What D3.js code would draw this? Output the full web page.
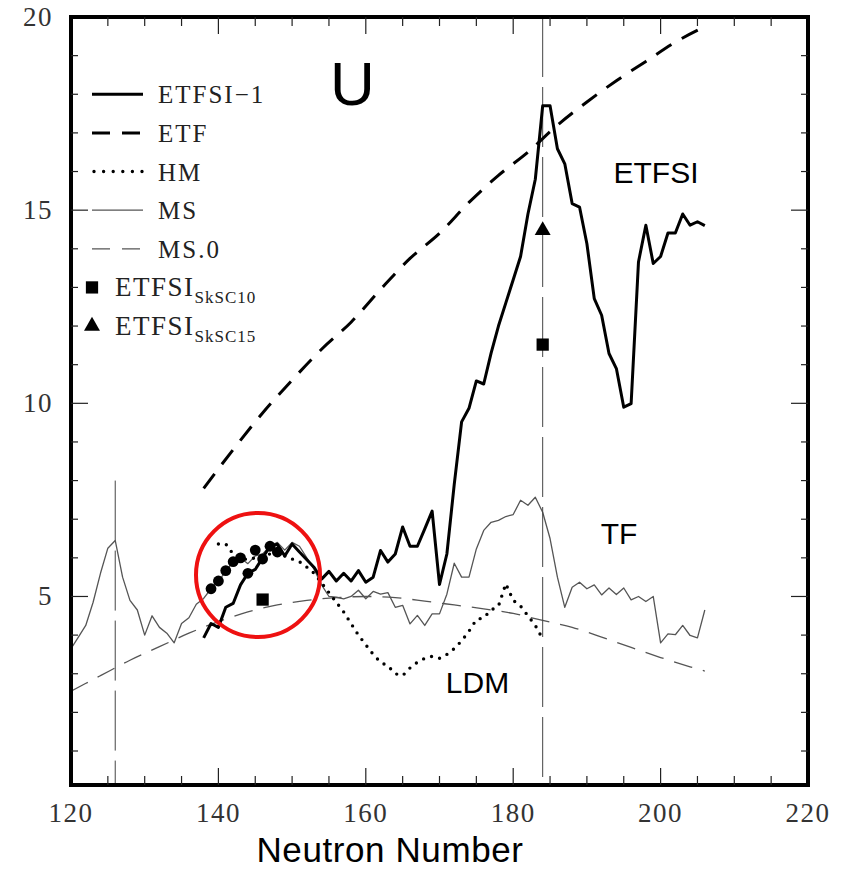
<!DOCTYPE html>
<html>
<head>
<meta charset="utf-8">
<script src="https://cdn.jsdelivr.net/npm/d3@7/dist/d3.min.js"></script>
<style>
  body { margin: 0; background: #fff; }
  svg { display: block; }
</style>
</head>
<body>
<svg id="chart" width="848" height="869"></svg>
<script>
// ---- data (U isotopes vs. neutron number) ----
const etfsiStart = 138;
const etfsiValues = [
  3.93, 4.3, 4.2, 4.72, 4.82, 5.3, 5.6, 5.7, 6.0, 6.3,          // 138-147
  6.35, 6.05, 6.36, 6.15, 5.95, 5.75, 5.45, 5.65, 5.4, 5.6,     // 148-157
  5.4, 5.67, 5.37, 5.5, 6.19, 5.89, 6.1, 6.8, 6.3, 6.3,         // 158-167
  6.75, 7.21, 5.31, 6.1, 7.9, 9.52, 9.87, 10.58, 10.5, 11.3,    // 168-177
  12.0, 12.6, 13.2, 13.8, 14.9, 15.8, 17.7, 17.7, 16.59, 16.2,  // 178-187
  15.17, 15.08, 14.13, 12.71, 12.28, 11.29, 10.9, 9.9, 9.99, 13.66, // 188-197
  14.61, 13.62, 13.8, 14.41, 14.41, 14.9, 14.61, 14.7, 14.6     // 198-206
];

const etfN      = [138, 142, 146, 150, 154, 158, 162, 166, 170, 174, 178, 182, 186, 190, 194, 198, 202, 206];
const etfValues = [7.8, 8.8, 9.75, 10.6, 11.4, 12.1, 12.95, 13.75, 14.4, 15.2, 15.9, 16.5, 17.2, 17.8, 18.35, 18.85, 19.35, 19.75];

const hmStart = 140;
const hmValues = [
  6.36, 6.36, 6.1, 6.0, 5.95, 6.0, 6.05, 6.1, 6.15, 6.05,   // 140-149
  5.97, 5.9, 5.76, 5.6, 5.35, 5.1, 4.85, 4.6, 4.3, 4.0,     // 150-159
  3.75, 3.5, 3.3, 3.2, 3.0, 2.95, 3.15, 3.3, 3.4, 3.45,     // 160-169
  3.4, 3.5, 3.65, 3.85, 4.1, 4.4, 4.45, 4.65, 4.75, 5.33,   // 170-179
  4.9, 4.75, 4.5, 4.25, 3.9                                 // 180-184
];

const msStart = 120;
const msValues = [
  3.65, 3.95, 4.25, 4.85, 5.6, 6.25, 6.45, 5.5, 4.9, 4.65,  // 120-129
  4.0, 4.5, 4.2, 4.05, 3.8, 4.3, 4.45, 4.8, 4.95, 5.2,      // 130-139
  5.4, 5.65, 5.9, 6.0, 5.85, 6.05, 6.1, 6.3, 6.4, 6.2,      // 140-149
  6.4, 6.3, 6.0, 5.7, 5.3, 5.0, 4.98, 4.94, 5.0, 5.16,      // 150-159
  4.94, 5.13, 5.06, 5.1, 4.72, 4.77, 4.29, 4.51, 4.25, 4.55, // 160-169
  4.55, 5.06, 5.86, 5.5, 5.5, 6.23, 6.71, 6.92, 6.97, 7.07, // 170-179
  7.12, 7.49, 7.36, 7.57, 7.18, 6.5, 5.5, 4.72, 5.24, 5.37, // 180-189
  5.2, 5.3, 5.04, 5.22, 5.05, 5.22, 4.91, 5.0, 4.87, 5.0,   // 190-199
  3.8, 4.03, 4.01, 4.25, 3.99, 3.93, 4.65                   // 200-206
];

const ms0N      = [120, 124, 128, 132, 136, 140, 144, 148, 152, 156, 160, 164, 168, 172, 176, 180, 184, 188, 192, 196, 200, 204, 206];
const ms0Values = [2.55, 2.95, 3.35, 3.7, 4.05, 4.35, 4.6, 4.78, 4.9, 4.97, 5.0, 4.97, 4.88, 4.78, 4.68, 4.56, 4.38, 4.2, 3.95, 3.68, 3.42, 3.18, 3.07];

// filled circles near the ground state region
const dotN      = [139, 140, 141, 142, 143, 144, 145, 146, 147, 148];
const dotValues = [5.2, 5.4, 5.67, 5.9, 6.0, 5.6, 6.2, 5.97, 6.3, 6.15];

const skSC10N      = [184, 146];
const skSC10Values = [11.52, 4.92];
const skSC15N      = [184];
const skSC15Values = [14.5];

// shell closures
const magicN    = [126, 184];
const magicFrom = [8.0, 20];

const xMajorTicks = [120, 140, 160, 180, 200, 220];
const yMajorTicks = [5, 10, 15, 20];

const legendNames = ["ETFSI\u22121", "ETF", "HM", "MS", "MS.0"];

// ---- layout ----
const svg = d3.select("#chart");
const x = d3.scaleLinear().domain([120, 220]).range([71, 808]);
const y = d3.scaleLinear().domain([0.12, 20]).range([785, 17]);

const plot = svg.append("g");
const clipId = "plotClip";
svg.append("defs").append("clipPath").attr("id", clipId)
  .append("rect").attr("x", x(120)).attr("y", y(20)).attr("width", x(220) - x(120)).attr("height", y(0.12) - y(20));

const seq = (start, vals) => vals.map((v, i) => [start + i, v]);
const zip = (ns, vals) => ns.map((n, i) => [n, vals[i]]);
const line = d3.line().x(d => x(d[0])).y(d => y(d[1]));
const smooth = d3.line().x(d => x(d[0])).y(d => y(d[1])).curve(d3.curveMonotoneX);

const curves = plot.append("g").attr("clip-path", `url(#${clipId})`);

// MS.0 smooth dashed
curves.append("path").datum(zip(ms0N, ms0Values))
  .attr("d", smooth).attr("fill", "none")
  .attr("stroke", "#555").attr("stroke-width", 1.3).attr("stroke-dasharray", "19,11");

// MS thin solid
curves.append("path").datum(seq(msStart, msValues))
  .attr("d", line).attr("fill", "none")
  .attr("stroke", "#555").attr("stroke-width", 1.3).attr("stroke-linejoin", "round");

// shell-closure guides
curves.selectAll("line.magic").data(magicN).join("line")
  .attr("class", "magic")
  .attr("x1", d => x(d)).attr("x2", d => x(d))
  .attr("y1", (d, i) => y(magicFrom[i])).attr("y2", y(0.12))
  .attr("stroke", "#444").attr("stroke-width", 1).attr("stroke-dasharray", "60,10");

// ETF thick dashed
curves.append("path").datum(zip(etfN, etfValues))
  .attr("d", smooth).attr("fill", "none")
  .attr("stroke", "#000").attr("stroke-width", 3).attr("stroke-dasharray", "18,12");

// HM dotted
curves.append("path").datum(seq(hmStart, hmValues))
  .attr("d", line).attr("fill", "none")
  .attr("stroke", "#000").attr("stroke-width", 3.4).attr("stroke-linecap", "round")
  .attr("stroke-dasharray", "0,8.3");

// ETFSI-1 thick solid
curves.append("path").datum(seq(etfsiStart, etfsiValues))
  .attr("d", line).attr("fill", "none")
  .attr("stroke", "#000").attr("stroke-width", 3).attr("stroke-linejoin", "round");

// filled circles
curves.selectAll("circle.dot").data(zip(dotN, dotValues)).join("circle")
  .attr("class", "dot")
  .attr("cx", d => x(d[0])).attr("cy", d => y(d[1])).attr("r", 5.4).attr("fill", "#000");

// squares and triangles
const sq = d3.symbol().type(d3.symbolSquare).size(150);
const tri = d3.symbol().type(d3.symbolTriangle).size(110);
curves.selectAll("path.sq").data(zip(skSC10N, skSC10Values)).join("path")
  .attr("class", "sq").attr("d", sq)
  .attr("transform", d => `translate(${x(d[0])},${y(d[1])})`).attr("fill", "#000");
curves.selectAll("path.tri").data(zip(skSC15N, skSC15Values)).join("path")
  .attr("class", "tri").attr("d", tri)
  .attr("transform", d => `translate(${x(d[0])},${y(d[1]) + 1})`).attr("fill", "#000");

// highlight ring
plot.append("circle").attr("cx", 258).attr("cy", 575).attr("r", 62)
  .attr("fill", "none").attr("stroke", "#ee1111").attr("stroke-width", 4);

// ---- frame and ticks ----
const axes = svg.append("g");
axes.append("rect")
  .attr("x", x(120)).attr("y", y(20))
  .attr("width", x(220) - x(120)).attr("height", y(0.12) - y(20))
  .attr("fill", "none").attr("stroke", "#000").attr("stroke-width", 4);

const xMinor = d3.range(125, 220, 5).filter(v => !xMajorTicks.includes(v));
const yMinor = d3.range(1, 20, 1).filter(v => !yMajorTicks.includes(v));
const tickStroke = "#222";

function xTick(v, len) {
  axes.append("line").attr("x1", x(v)).attr("x2", x(v))
    .attr("y1", y(0.12)).attr("y2", y(0.12) - len).attr("stroke", tickStroke).attr("stroke-width", 1.2);
  axes.append("line").attr("x1", x(v)).attr("x2", x(v))
    .attr("y1", y(20)).attr("y2", y(20) + len).attr("stroke", tickStroke).attr("stroke-width", 1.2);
}
function yTick(v, len) {
  axes.append("line").attr("x1", x(120)).attr("x2", x(120) + len)
    .attr("y1", y(v)).attr("y2", y(v)).attr("stroke", tickStroke).attr("stroke-width", 1.2);
  axes.append("line").attr("x1", x(220)).attr("x2", x(220) - len)
    .attr("y1", y(v)).attr("y2", y(v)).attr("stroke", tickStroke).attr("stroke-width", 1.2);
}
xMinor.forEach(v => xTick(v, 9));
xMajorTicks.filter(v => v > 120 && v < 220).forEach(v => xTick(v, 17));
yMinor.forEach(v => yTick(v, 7));
yMajorTicks.filter(v => v < 20).forEach(v => yTick(v, 17));

const tickFont = "'Liberation Serif', 'Times New Roman', serif";
axes.selectAll("text.xt").data(xMajorTicks).join("text")
  .attr("class", "xt")
  .attr("x", d => x(d)).attr("y", 822)
  .attr("text-anchor", "middle").attr("font-family", tickFont)
  .attr("font-size", 27).attr("letter-spacing", 1.5).attr("fill", "#333")
  .text(d => d);
axes.selectAll("text.yt").data(yMajorTicks).join("text")
  .attr("class", "yt")
  .attr("x", 53).attr("y", d => y(d) + 9)
  .attr("text-anchor", "end").attr("font-family", tickFont)
  .attr("font-size", 27).attr("letter-spacing", 1.5).attr("fill", "#333")
  .text(d => d);

// ---- legend ----
const leg = svg.append("g");
const legStyles = [
  { stroke: "#000", width: 3, dash: null, cap: "butt" },
  { stroke: "#000", width: 3, dash: "18,12", cap: "butt" },
  { stroke: "#000", width: 3.4, dash: "0,9.6", cap: "round" },
  { stroke: "#555", width: 1.3, dash: null, cap: "butt" },
  { stroke: "#555", width: 1.3, dash: "18,12", cap: "butt" }
];
const legRowY = [18, 17, 16, 15, 14];
legendNames.forEach((name, i) => {
  const yy = y(legRowY[i]);
  const st = legStyles[i];
  leg.append("line")
    .attr("x1", i === 2 ? 94 : 92).attr("x2", 143).attr("y1", yy).attr("y2", yy)
    .attr("stroke", st.stroke).attr("stroke-width", st.width)
    .attr("stroke-linecap", st.cap)
    .attr("stroke-dasharray", st.dash);
  leg.append("text")
    .attr("x", 158).attr("y", yy + 9)
    .attr("font-family", tickFont).attr("font-size", 25).attr("letter-spacing", 2)
    .attr("fill", "#222").text(name);
});

const markerRows = [
  { row: 13, sym: sq, sub: "SkSC10" },
  { row: 12, sym: tri, sub: "SkSC15" }
];
markerRows.forEach(m => {
  const yy = y(m.row);
  leg.append("path").attr("d", m.sym)
    .attr("transform", `translate(92,${yy})`).attr("fill", "#000");
  const t = leg.append("text")
    .attr("x", 115).attr("y", yy + 9)
    .attr("font-family", tickFont).attr("font-size", 27).attr("letter-spacing", 1.5)
    .attr("fill", "#222");
  t.append("tspan").text("ETFSI");
  t.append("tspan").attr("dy", 7).attr("font-size", 17).attr("letter-spacing", 1).text(m.sub);
});

// ---- annotations ----
const sans = "'Liberation Sans', Arial, sans-serif";
const notes = [
  { text: "U", x: 352.5, y: 105, size: 62 },
  { text: "ETFSI", x: 656, y: 183, size: 30 },
  { text: "TF", x: 619, y: 544, size: 30 },
  { text: "LDM", x: 477.5, y: 693, size: 30 }
];
svg.selectAll("text.note").data(notes).join("text")
  .attr("class", "note")
  .attr("x", d => d.x).attr("y", d => d.y)
  .attr("text-anchor", "middle").attr("font-family", sans)
  .attr("font-size", d => d.size).attr("fill", "#000")
  .text(d => d.text);

svg.append("text")
  .attr("x", 390).attr("y", 862)
  .attr("text-anchor", "middle").attr("font-family", sans)
  .attr("font-size", 35).attr("letter-spacing", 0.6).attr("fill", "#000")
  .text("Neutron Number");
</script>
</body>
</html>
